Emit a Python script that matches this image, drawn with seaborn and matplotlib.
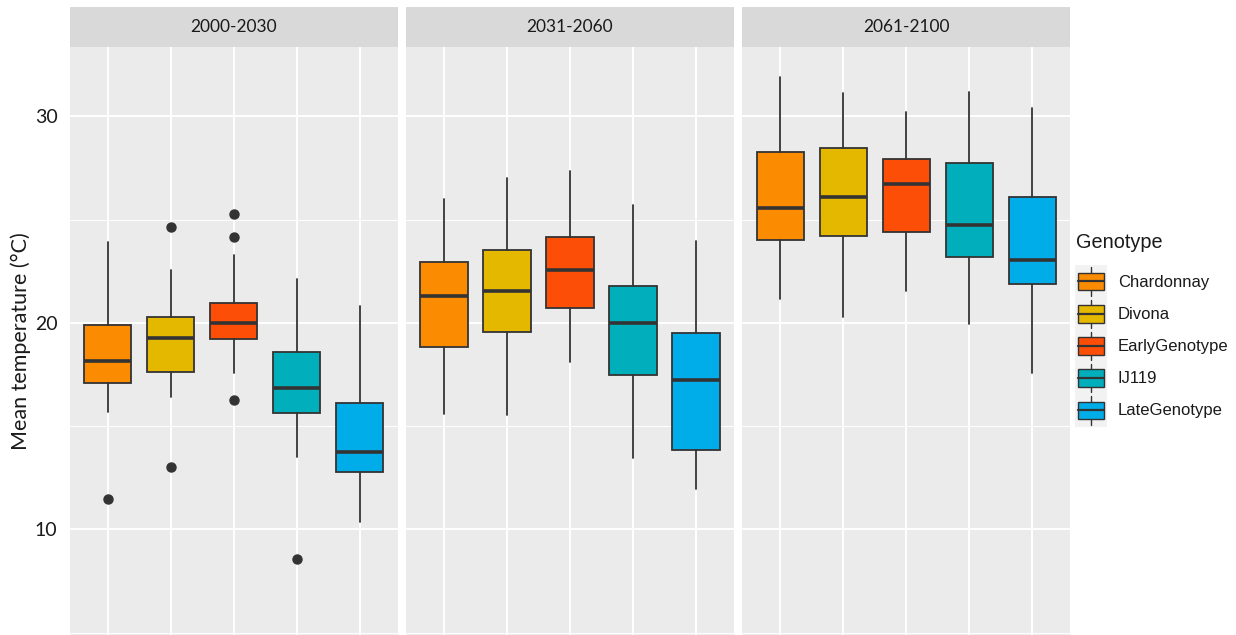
import numpy as np
import seaborn as sns
import matplotlib.pyplot as plt
from matplotlib.patches import Rectangle
from matplotlib.lines import Line2D
from matplotlib.legend_handler import HandlerBase

# ---- data ----
periods = ["2000-2030", "2031-2060", "2061-2100"]
genotypes = ["Chardonnay", "Divona", "EarlyGenotype", "IJ119", "LateGenotype"]
colors = ["#FB8B00", "#E5B800", "#FC4E07", "#00AFBB", "#00ADE9"]

# one row per period, one value per genotype
whisker_lo = [[15.70, 16.43, 17.59, 13.53, 10.35],
              [15.58, 15.54, 18.10, 13.48, 11.96],
              [21.16, 20.27, 21.56, 19.95, 17.56]]
q1 = [[17.11, 17.64, 19.23, 15.66, 12.77],
      [18.85, 19.58, 20.71, 17.48, 13.85],
      [24.02, 24.23, 24.42, 23.21, 21.89]]
median = [[18.16, 19.29, 19.98, 16.84, 13.77],
          [21.31, 21.56, 22.57, 19.98, 17.24],
          [25.58, 26.12, 26.72, 24.75, 23.05]]
q3 = [[19.90, 20.31, 20.95, 18.61, 16.14],
      [22.97, 23.54, 24.18, 21.81, 19.50],
      [28.27, 28.46, 27.94, 27.73, 26.12]]
whisker_hi = [[23.94, 22.57, 23.29, 22.11, 20.82],
              [26.00, 27.04, 27.38, 25.71, 23.97],
              [31.93, 31.12, 30.20, 31.20, 30.40]]
outliers = [[[11.48], [24.66, 13.04], [25.28, 24.18, 16.27], [8.56], []],
            [[], [], [], [], []],
            [[], [], [], [], []]]

EDGE = "#333333"


class BoxHandler(HandlerBase):
    """Draw a small boxplot glyph as legend key (ggplot style)."""

    def create_artists(self, legend, orig_handle, xdescent, ydescent,
                       width, height, fontsize, trans):
        x0, y0 = -xdescent, -ydescent
        bg = Rectangle((x0, y0), width, height, fc="#F2F2F2", ec="none", transform=trans)
        bw, bh = width * 0.84, height * 0.55
        bx, by = x0 + (width - bw) / 2, y0 + (height - bh) / 2
        box = Rectangle((bx, by), bw, bh, fc=orig_handle.get_facecolor(), ec=EDGE, lw=1.0, transform=trans)
        cx = x0 + width / 2
        med = Line2D([bx, bx + bw], [y0 + height / 2] * 2, color=EDGE, lw=1.6, transform=trans)
        w1 = Line2D([cx, cx], [y0 + 1.5, by], color=EDGE, lw=1.0, transform=trans)
        w2 = Line2D([cx, cx], [by + bh, y0 + height - 1.5], color=EDGE, lw=1.0, transform=trans)
        return [bg, w1, w2, box, med]


sns.set_theme(style="darkgrid", rc={
    "axes.facecolor": "#EBEBEB",
    "grid.color": "white",
    "axes.edgecolor": "none",
})
plt.rcParams["font.family"] = ["Lato", "DejaVu Sans"]

fig, axes = plt.subplots(1, 3, figsize=(12.36, 6.35), dpi=100, sharey=True)
fig.subplots_adjust(left=70 / 1236, right=1070 / 1236, top=1 - 46.7 / 635, bottom=0, wspace=0.0266)

strip_h = 40 / 588
for p, ax in enumerate(axes):
    stats = []
    for g in range(len(genotypes)):
        stats.append({
            "whislo": whisker_lo[p][g], "q1": q1[p][g], "med": median[p][g],
            "q3": q3[p][g], "whishi": whisker_hi[p][g], "fliers": outliers[p][g],
        })
    bp = ax.bxp(stats, positions=np.arange(len(genotypes)), widths=0.75,
                patch_artist=True, showcaps=False, manage_ticks=False,
                boxprops=dict(edgecolor=EDGE, linewidth=1.3),
                medianprops=dict(color=EDGE, linewidth=2.6, solid_capstyle="butt"),
                whiskerprops=dict(color=EDGE, linewidth=1.3),
                flierprops=dict(marker="o", markerfacecolor=EDGE, markeredgecolor=EDGE, markersize=6.5))
    for patch, c in zip(bp["boxes"], colors):
        patch.set_facecolor(c)
    for line in bp["medians"]:
        line.set_zorder(4)

    ax.set_xlim(-0.6, 4.6)
    ax.set_ylim(4.89, 33.38)
    ax.set_xticks(np.arange(len(genotypes)))
    ax.set_xticklabels([])
    ax.set_yticks([10, 20, 30])
    ax.set_yticks([5, 15, 25], minor=True)
    ax.grid(which="major", color="white", linewidth=1.4)
    ax.grid(which="minor", axis="y", color="white", linewidth=0.7)
    ax.tick_params(axis="x", length=0)
    ax.tick_params(axis="y", which="both", length=0, labelsize=14, labelcolor="#1a1a1a", pad=9)
    ax.set_axisbelow(True)

    ax.add_patch(Rectangle((0, 1), 1, strip_h, transform=ax.transAxes, clip_on=False,
                           fc="#D9D9D9", ec="none"))
    ax.text(0.5, 1 + strip_h / 2, periods[p], transform=ax.transAxes, ha="center", va="center",
            fontsize=12.5, color="#1a1a1a")

axes[0].set_ylabel("Mean temperature (°C)", fontsize=15.5, color="#1a1a1a", labelpad=3)

# legend: title as separate text so the gap to the keys matches ggplot
fig.text(1076 / 1236, 1 - 243 / 635, "Genotype", ha="left", va="center", fontsize=14.3,
         family=["Liberation Sans", "DejaVu Sans"], color="#1a1a1a")
handles = [Rectangle((0, 0), 1, 1, fc=c) for c in colors]
leg = fig.legend(handles, genotypes, loc="upper left", bbox_to_anchor=(1072 / 1236, 1 - 262 / 635),
                 frameon=False, handler_map={Rectangle: BoxHandler()},
                 prop={"family": ["Liberation Sans", "DejaVu Sans"], "size": 12},
                 handlelength=1.9, handleheight=2.6, labelspacing=0.0, handletextpad=0.65,
                 borderpad=0.2, borderaxespad=0)
for t in leg.get_texts():
    t.set_color("#1a1a1a")

fig.savefig("out.png", dpi=100)
